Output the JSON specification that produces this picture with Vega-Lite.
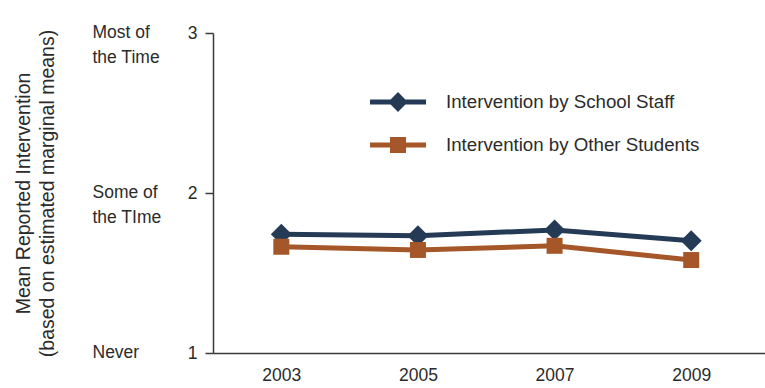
{
  "$schema": "https://vega.github.io/schema/vega-lite/v6.json",
  "width": 552,
  "height": 320,
  "autosize": {"type": "none"},
  "padding": {"left": 213, "top": 33, "right": 0, "bottom": 35},
  "config": {
    "view": {"stroke": null},
    "font": "Liberation Sans",
    "axis": {"grid": false, "labelColor": "#2b2b2b", "titleColor": "#2b2b2b", "domainColor": "#3a3a3a", "tickColor": "#3a3a3a", "domainWidth": 1.5, "tickWidth": 1.5, "labelFontSize": 17.5, "labelFont": "Liberation Sans", "labelOverlap": false}
  },
  "data": {
    "values": [
      {"year": 2003, "series": "Intervention by School Staff", "mean": 1.742},
      {"year": 2005, "series": "Intervention by School Staff", "mean": 1.733},
      {"year": 2007, "series": "Intervention by School Staff", "mean": 1.769},
      {"year": 2009, "series": "Intervention by School Staff", "mean": 1.702},
      {"year": 2003, "series": "Intervention by Other Students", "mean": 1.664},
      {"year": 2005, "series": "Intervention by Other Students", "mean": 1.644},
      {"year": 2007, "series": "Intervention by Other Students", "mean": 1.67},
      {"year": 2009, "series": "Intervention by Other Students", "mean": 1.581}
    ]
  },
  "resolve": {"axis": {"y": "independent"}},
  "layer": [
    {
      "mark": {"type": "line", "strokeWidth": 5},
      "encoding": {
        "x": {"field": "year", "type": "quantitative", "scale": {"domain": [2002, 2010.08], "nice": false, "zero": false},
              "axis": {"title": null, "values": [2003, 2005, 2007, 2009], "format": "d", "ticks": false, "labelPadding": 13, "labelFlush": false}},
        "y": {"field": "mean", "type": "quantitative", "scale": {"domain": [1, 3], "nice": false, "zero": false},
              "axis": {"orient": "left", "title": null, "values": [1, 2, 3], "format": ".0f", "tickSize": 8, "labelPadding": 8, "labelBaseline": "middle", "labelOverlap": false, "labelFlush": false}},
        "color": {"field": "series", "type": "nominal",
                  "scale": {"domain": ["Intervention by School Staff", "Intervention by Other Students"], "range": ["#243a55", "#a65729"]},
                  "legend": {"orient": "none", "legendX": 175, "legendY": 59, "title": null, "symbolSize": 400, "labelOffset": 38,
                             "labelFontSize": 18.7, "labelColor": "#2b2b2b", "labelFont": "Liberation Sans", "rowPadding": 23, "padding": 0,
                             "symbolStrokeWidth": 0, "labelLimit": 400,
                             "encode": {"symbols": {"update": {
                               "shape": {"signal": "datum.value === 'Intervention by School Staff' ? 'M-2.8,-0.26H-0.74L0,-1L0.74,-0.26H2.8V0.26H0.74L0,1L-0.74,0.26H-2.8Z' : 'M-2.8,-0.26H-0.8V-0.8H0.8V-0.26H2.8V0.26H0.8V0.8H-0.8V0.26H-2.8Z'"},
                               "fill": {"signal": "datum.value === 'Intervention by School Staff' ? '#243a55' : '#a65729'"},
                               "strokeWidth": {"value": 0},
                               "opacity": {"value": 1}
                             }}}}}
      }
    },
    {
      "mark": {"type": "point", "filled": true, "opacity": 1},
      "encoding": {
        "x": {"field": "year", "type": "quantitative"},
        "y": {"field": "mean", "type": "quantitative",
              "axis": {"orient": "left", "title": ["Mean Reported Intervention", "(based on estimated marginal means)"],
                       "titleFontSize": 19.5, "titleFontWeight": "normal", "titleLineHeight": 24, "titlePadding": 35,
                       "values": [1, 2, 3], "domain": false, "ticks": false, "tickSize": 0, "labelPadding": 121,
                       "labelAlign": "left", "labelBaseline": "alphabetic", "labelOffset": 4, "labelLineHeight": 25,
                       "labelOverlap": false, "labelFlush": false,
                       "labelExpr": "datum.value == 3 ? ['Most of', 'the Time'] : datum.value == 2 ? ['Some of', 'the TIme'] : 'Never'"}},
        "color": {"field": "series", "type": "nominal", "legend": null},
        "shape": {"condition": {"test": "datum.series === 'Intervention by School Staff'", "value": "diamond"}, "value": "square"},
        "size": {"condition": {"test": "datum.series === 'Intervention by School Staff'", "value": 441}, "value": 256}
      }
    }
  ]
}
